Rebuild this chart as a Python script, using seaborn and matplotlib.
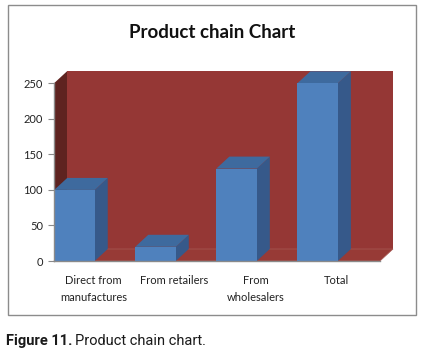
import matplotlib
matplotlib.use("Agg")
import matplotlib.pyplot as plt
import seaborn as sns
import pandas as pd
import numpy as np
from matplotlib.patches import Polygon, Rectangle
from matplotlib.transforms import ScaledTranslation
from matplotlib import font_manager

categories = ["Direct from\nmanufactures", "From retailers", "From\nwholesalers", "Total"]
values = [100, 20, 130, 250]
yticks = [0, 50, 100, 150, 200, 250]
title = "Product chain Chart"
caption_bold = "Figure 11."
caption_rest = "Product chain chart."

sns.set_theme(style="white")
plt.rcParams['font.family'] = ['Lato', 'DejaVu Sans']

names = {f.name for f in font_manager.fontManager.ttflist}
cap_font = 'Liberation Sans Narrow' if 'Liberation Sans Narrow' in names else 'Roboto'

W, H = 422, 351
fig = plt.figure(figsize=(W / 100, H / 100), dpi=100)
fig.patch.set_facecolor('white')

# chart frame
fig.patches.append(Rectangle((8 / W, 1 - 315 / H), 408 / W, 310 / H, transform=fig.transFigure,
                             fill=False, edgecolor='#8c8c8c', lw=1.0))

ax = fig.add_axes([54 / W, 1 - 261 / H, 326 / W, (261 - 83.3) / H])
df = pd.DataFrame({"cat": categories, "val": values})
sns.barplot(data=df, x="cat", y="val", color="#4F81BD", saturation=1, width=0.5,
            ax=ax, zorder=3, linewidth=0)
x0, x1 = -0.253, 3.77
ax.set_xlim(x0, x1)
ax.set_ylim(0, 250)
ax.set_yticks(yticks)
ax.patch.set_alpha(0)

# depth offset in data units
p0 = ax.transData.transform((0, 0))
p1 = ax.transData.inverted().transform(p0 + np.array([13, 12]))
dxd, dyd = p1[0], p1[1]

wall = '#953735'
# back wall
ax.add_patch(Rectangle((x0 + dxd, dyd), x1 - x0, 250, facecolor=wall, edgecolor='none',
                       clip_on=False, zorder=0.5))
# left side wall
ax.add_patch(Polygon([(x0, 0), (x0, 250), (x0 + dxd, 250 + dyd), (x0 + dxd, dyd)],
                     closed=True, facecolor='#5E2320', edgecolor='none', clip_on=False, zorder=0.6))
# floor
ax.add_patch(Polygon([(x0, 0), (x1, 0), (x1 + dxd, dyd), (x0 + dxd, dyd)],
                     closed=True, facecolor='#973a36', edgecolor='#a85a55', lw=0.5,
                     clip_on=False, zorder=0.6))

for p in ax.patches[:len(values)]:
    x, w, h = p.get_x(), p.get_width(), p.get_height()
    ax.add_patch(Polygon([(x + w, 0), (x + w, h), (x + w + dxd, h + dyd), (x + w + dxd, dyd)],
                         closed=True, facecolor='#36598A', edgecolor='none', zorder=2.9, clip_on=False))
    ax.add_patch(Polygon([(x, h), (x + w, h), (x + w + dxd, h + dyd), (x + dxd, h + dyd)],
                         closed=True, facecolor='#3E6A9E', edgecolor='none', zorder=2.9, clip_on=False))

for s in ['top', 'right']:
    ax.spines[s].set_visible(False)
for s in ['left', 'bottom']:
    ax.spines[s].set_color('#8a8a8a')
    ax.spines[s].set_linewidth(1.0)
    ax.spines[s].set_zorder(4)

ax.set_xlabel('')
ax.set_ylabel('')
ax.tick_params(axis='y', left=True, length=4, width=0.8, color='#8a8a8a', labelsize=8,
               labelcolor='#222222', pad=4)
ax.tick_params(axis='x', bottom=False, labelsize=8, labelcolor='#222222', pad=4)
for lab in ax.get_xticklabels():
    lab.set_linespacing(1.65)
    lab.set_transform(lab.get_transform() + ScaledTranslation(19 / 100, 0, fig.dpi_scale_trans))

fig.text(212 / W, 1 - 32 / H, title, ha='center', va='center', fontsize=13.5, fontweight='bold',
         color='#111111')

fig.canvas.draw()
renderer = fig.canvas.get_renderer()
t1 = fig.text(6 / W, 1 - 341 / H, caption_bold, ha='left', va='center', fontsize=10.5,
              fontweight='bold', family=[cap_font, 'DejaVu Sans'], color='#1a1a1a')
bb = t1.get_window_extent(renderer)
fig.text((bb.x1 + 3) / W, 1 - 341 / H, caption_rest, ha='left', va='center', fontsize=10.5,
         family=[cap_font, 'DejaVu Sans'], color='#1a1a1a')

fig.savefig('out.png', dpi=100, facecolor='white')
